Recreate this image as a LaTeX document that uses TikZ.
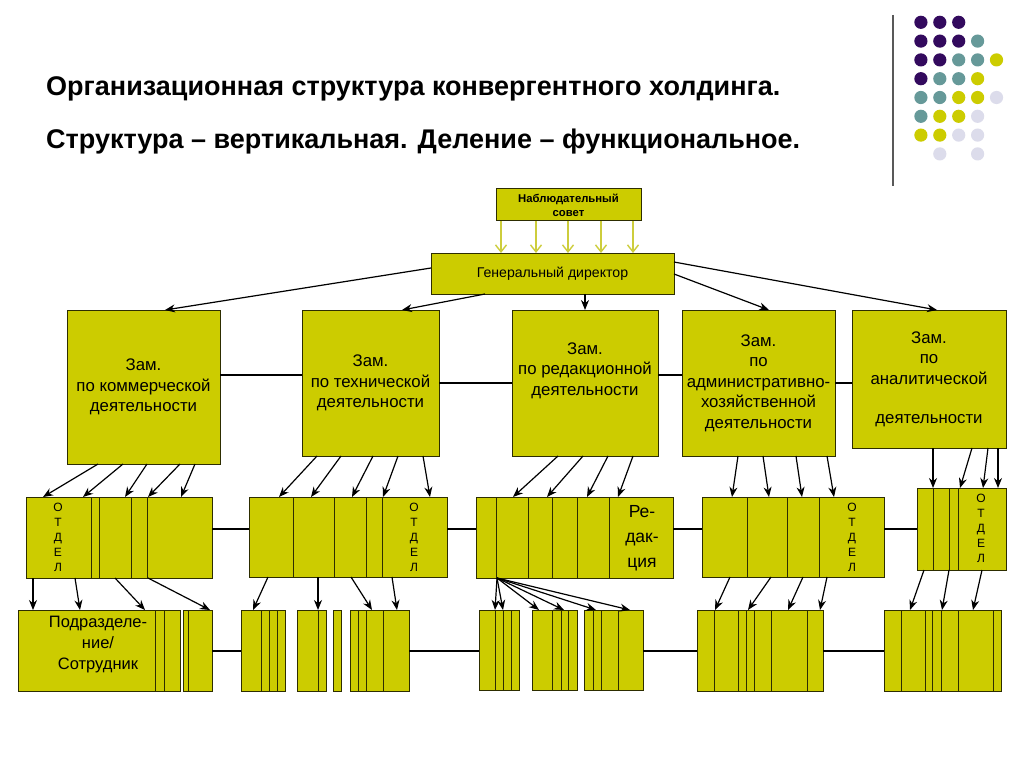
\documentclass[tikz,border=0pt]{standalone}
\usepackage{fontspec}
\setmainfont{Liberation Sans}
\usetikzlibrary{arrows.meta}
\definecolor{olv}{RGB}{204,204,0}
\definecolor{edgec}{RGB}{45,45,0}
\definecolor{lightarr}{RGB}{205,205,60}
\definecolor{dP}{RGB}{51,10,94}
\definecolor{dT}{RGB}{102,153,153}
\definecolor{dY}{RGB}{204,204,0}
\definecolor{dL}{RGB}{220,220,235}
\begin{document}
\begin{tikzpicture}[x=1pt,y=-1pt,
  box/.style={draw=edgec, fill=olv, line width=1pt, inner sep=0pt, outer sep=0pt, anchor=north west},
  dep/.style={box, font=\fontsize{16.8}{20.5}\selectfont, align=center},
  div/.style={draw=edgec, line width=1pt},
  conn/.style={draw=black, line width=1.2pt},
  arr/.style={conn, -{Stealth[length=10pt,width=8pt]}},
  larr/.style={draw=lightarr, line width=1.4pt, -{Straight Barb[length=7pt,width=11pt]}},
  otd/.style={font=\fontsize{12}{15}\selectfont, align=center, inner sep=0pt},
  ttl/.style={font=\bfseries\fontsize{27}{32}\selectfont, anchor=base west, inner sep=0pt}
]
\fill[white] (0,0) rectangle (1024,767);
\useasboundingbox (0,0) rectangle (1024,767);

% title
\node[ttl] (t1) at (46,96) {Организационная структура конвергентного холдинга.};
\node[ttl] (t2) at (46,149) {Структура – вертикальная. Деление – функциональное.};

% decoration
\draw[draw=black!65, line width=1.5pt] (893,15) -- (893,186);
\foreach \c/\r/\col in {1/1/dP,2/1/dP,3/1/dP,
  1/2/dP,2/2/dP,3/2/dP,4/2/dT,
  1/3/dP,2/3/dP,3/3/dT,4/3/dT,5/3/dY,
  1/4/dP,2/4/dT,3/4/dT,4/4/dY,
  1/5/dT,2/5/dT,3/5/dY,4/5/dY,5/5/dL,
  1/6/dT,2/6/dY,3/6/dY,4/6/dL,
  1/7/dY,2/7/dY,3/7/dL,4/7/dL,
  2/8/dL,4/8/dL}
  \fill[\col] ({902+18.9*\c},{3.5+18.8*\r}) circle (6.6);

% top
\node[box, minimum width=145pt, minimum height=32pt, font=\bfseries\fontsize{11.3}{14}\selectfont, align=center] (sov) at (496,189) {Наблюдательный\\совет};
\node[box, minimum width=243pt, minimum height=41pt, font=\fontsize{14.1}{16}\selectfont] (gen) at (431,253) {Генеральный директор};
\foreach \x in {501,536,568,601,633}
  \draw[larr] (sov.south -| \x,0) -- (gen.north -| \x,0);

% deputies
\node[dep, minimum width=153pt, minimum height=154pt] (d1) at (67,310) {Зам.\\по коммерческой\\деятельности};
\node[dep, minimum width=137pt, minimum height=146pt] (d2) at (302,310) {Зам.\\по технической\\деятельности};
\node[dep, minimum width=146pt, minimum height=146pt] (d3) at (512,310) {Зам.\\по редакционной\\деятельности\\[8pt]};
\node[dep, minimum width=153pt, minimum height=146pt] (d4) at (682,310) {Зам.\\по\\административно-\\хозяйственной\\деятельности};
\node[dep, minimum width=154pt, minimum height=138pt] (d5) at (852,310) {Зам.\\по\\аналитической\\\\[-2pt]деятельности};

\draw[arr] (gen.west |- 0,268) -- (d1.north -| 165,0);
\draw[arr] (gen.south -| 485,0) -- (d2.north -| 402,0);
\draw[arr] (gen.south -| 585,0) -- (d3.north -| 585,0);
\draw[arr] (gen.east |- 0,274) -- (d4.north -| 769,0);
\draw[arr] (gen.east |- 0,262) -- (d5.north -| 937,0);

\draw[conn] (d1.east |- 0,375) -- (d2.west |- 0,375);
\draw[conn] (d2.east |- 0,383) -- (d3.west |- 0,383);
\draw[conn] (d3.east |- 0,375) -- (d4.west |- 0,375);
\draw[conn] (d4.east |- 0,383) -- (d5.west |- 0,383);

% departments
\node[box, minimum width=186pt, minimum height=81pt] (g1) at (26,497) {};
\node[box, minimum width=198pt, minimum height=80pt] (g2) at (249,497) {};
\node[box, minimum width=197pt, minimum height=81pt] (g3) at (476,497) {};
\node[box, minimum width=182pt, minimum height=80pt] (g4) at (702,497) {};
\node[box, minimum width=89pt, minimum height=82pt] (g5) at (917,488) {};
\foreach \x in {91,99,131,147} \draw[div] (g1.north -| \x,0) -- (g1.south -| \x,0);
\foreach \x in {293,334,366,382} \draw[div] (g2.north -| \x,0) -- (g2.south -| \x,0);
\foreach \x in {496,528,552,577,609} \draw[div] (g3.north -| \x,0) -- (g3.south -| \x,0);
\foreach \x in {747,787,819} \draw[div] (g4.north -| \x,0) -- (g4.south -| \x,0);
\foreach \x in {933,949,958} \draw[div] (g5.north -| \x,0) -- (g5.south -| \x,0);

\node[otd] (o1) at (58,537) {О\\Т\\Д\\Е\\Л};
\node[otd] (o2) at (414,537) {О\\Т\\Д\\Е\\Л};
\node[otd] (o4) at (852,537) {О\\Т\\Д\\Е\\Л};
\node[otd] (o5) at (981,528) {О\\Т\\Д\\Е\\Л};
\node[font=\fontsize{17.5}{25}\selectfont, align=center, inner sep=0pt] (red) at (642,538) {Ре-\\дак-\\ция};

\foreach \a/\b in {98/43,123/83,147/125,180/148,195/181}
  \draw[arr] (d1.south -| \a,0) -- (g1.north -| \b,0);
\foreach \a/\b in {317/279,341/311,373/352,398/383,423/430}
  \draw[arr] (d2.south -| \a,0) -- (g2.north -| \b,0);
\foreach \a/\b in {558/513,583/547,608/587,633/618}
  \draw[arr] (d3.south -| \a,0) -- (g3.north -| \b,0);
\foreach \a/\b in {738/732,763/769,796/802,827/834}
  \draw[arr] (d4.south -| \a,0) -- (g4.north -| \b,0);
\foreach \a/\b in {933/933,972/960,988/983,998/998}
  \draw[arr] (d5.south -| \a,0) -- (g5.north -| \b,0);

\draw[conn] (g1.east |- 0,529) -- (g2.west |- 0,529);
\draw[conn] (g2.east |- 0,529) -- (g3.west |- 0,529);
\draw[conn] (g3.east |- 0,529) -- (g4.west |- 0,529);
\draw[conn] (g4.east |- 0,529) -- (g5.west |- 0,529);

% bottom row
\node[box, minimum width=162pt, minimum height=81pt] (b1) at (18,610) {};
\node[box, minimum width=29pt, minimum height=81pt] (b1b) at (183,610) {};
\node[box, minimum width=44pt, minimum height=81pt] (b2a) at (241,610) {};
\node[box, minimum width=29pt, minimum height=81pt] (b2b) at (297,610) {};
\node[box, minimum width=8pt, minimum height=81pt] (b2c) at (333,610) {};
\node[box, minimum width=59pt, minimum height=81pt] (b2d) at (350,610) {};
\node[box, minimum width=40pt, minimum height=80pt] (b3a) at (479,610) {};
\node[box, minimum width=45pt, minimum height=80pt] (b3b) at (532,610) {};
\node[box, minimum width=59pt, minimum height=80pt] (b3c) at (584,610) {};
\node[box, minimum width=126pt, minimum height=81pt] (b4) at (697,610) {};
\node[box, minimum width=117pt, minimum height=81pt] (b5) at (884,610) {};
\foreach \x in {155,164} \draw[div] (b1.north -| \x,0) -- (b1.south -| \x,0);
\draw[div] (b1b.north -| 188,0) -- (b1b.south -| 188,0);
\foreach \x in {261,269,277} \draw[div] (b2a.north -| \x,0) -- (b2a.south -| \x,0);
\draw[div] (b2b.north -| 318,0) -- (b2b.south -| 318,0);
\foreach \x in {358,366,383} \draw[div] (b2d.north -| \x,0) -- (b2d.south -| \x,0);
\foreach \x in {495,503,511} \draw[div] (b3a.north -| \x,0) -- (b3a.south -| \x,0);
\foreach \x in {552,561,568} \draw[div] (b3b.north -| \x,0) -- (b3b.south -| \x,0);
\foreach \x in {593,601,618} \draw[div] (b3c.north -| \x,0) -- (b3c.south -| \x,0);
\foreach \x in {714,738,746,754,771,807} \draw[div] (b4.north -| \x,0) -- (b4.south -| \x,0);
\foreach \x in {901,925,932,941,958,993} \draw[div] (b5.north -| \x,0) -- (b5.south -| \x,0);

\node[font=\fontsize{16.5}{21}\selectfont, align=center, inner sep=0pt] (sub) at (98,645) {Подразделе-\\ние/\\Сотрудник};

\draw[arr] (g1.south -| 33,0) -- (b1.north -| 33,0);
\draw[arr] (g1.south -| 75,0) -- (b1.north -| 80,0);
\draw[arr] (g1.south -| 115,0) -- (b1.north -| 145,0);
\draw[arr] (g1.south -| 148,0) -- (b1b.north -| 210,0);
\draw[arr] (g2.south -| 268,0) -- (b2a.north -| 253,0);
\draw[arr] (g2.south -| 318,0) -- (b2b.north -| 318,0);
\draw[arr] (g2.south -| 351,0) -- (b2d.north -| 372,0);
\draw[arr] (g2.south -| 392,0) -- (b2d.north -| 397,0);
\coordinate (g3s) at (g3.south -| 497,0);
\draw[arr] (g3s) -- (b3a.north -| 495,0);
\draw[arr] (g3s) -- (b3a.north -| 503,0);
\draw[arr] (g3s) -- (b3b.north -| 539,0);
\draw[arr] (g3s) -- (b3b.north -| 564,0);
\draw[arr] (g3s) -- (b3c.north -| 596,0);
\draw[arr] (g3s) -- (b3c.north -| 630,0);
\foreach \a/\b in {730/715,771/748,803/788,827/820}
  \draw[arr] (g4.south -| \a,0) -- (b4.north -| \b,0);
\foreach \a/\b in {924/910,949/942,982/973}
  \draw[arr] (g5.south -| \a,0) -- (b5.north -| \b,0);

\draw[conn] (b1b.east |- 0,651) -- (b2a.west |- 0,651);
\draw[conn] (b2d.east |- 0,651) -- (b3a.west |- 0,651);
\draw[conn] (b3c.east |- 0,651) -- (b4.west |- 0,651);
\draw[conn] (b4.east |- 0,651) -- (b5.west |- 0,651);
\end{tikzpicture}
\end{document}
